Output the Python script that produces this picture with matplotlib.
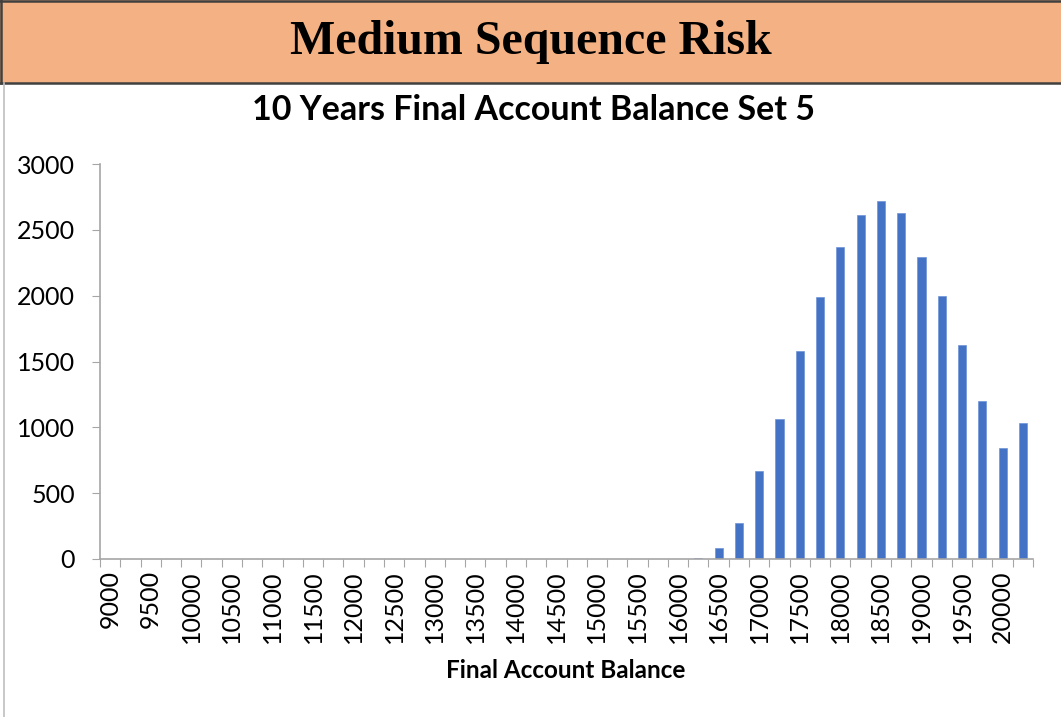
import matplotlib
matplotlib.use("Agg")
import matplotlib.pyplot as plt
from matplotlib.patches import Rectangle
from matplotlib.lines import Line2D
import numpy as np

# ---------------- Data ----------------
balance_bins = list(range(9000, 20251, 250))
counts = [0] * 29 + [5, 86, 276, 670, 1063, 1579, 1992, 2371, 2614, 2720,
                     2629, 2293, 1997, 1622, 1202, 840, 1030]
y_ticks = [0, 500, 1000, 1500, 2000, 2500, 3000]

header_text = "Medium Sequence Risk"
chart_title = "10 Years Final Account Balance Set 5"
x_title = "Final Account Balance"

W, H = 1061, 717
fig = plt.figure(figsize=(W / 100, H / 100), dpi=100)
fig.patch.set_facecolor("white")

# ---------------- Header band ----------------
hdr_h = 83
fig.patches.append(Rectangle((0, 1 - hdr_h / H), 1, hdr_h / H, transform=fig.transFigure,
                             facecolor="#F4B183", edgecolor="none", zorder=0))
for yy in (1 - 1 / H, 1 - hdr_h / H):
    fig.lines.append(Line2D([0, 1], [yy, yy], transform=fig.transFigure,
                            color="#404040", lw=1.8))
fig.lines.append(Line2D([1 / W, 1 / W], [1 - hdr_h / H, 1], transform=fig.transFigure,
                        color="#404040", lw=1.8))
fig.lines.append(Line2D([3.5 / W, 3.5 / W], [0, 1 - hdr_h / H], transform=fig.transFigure,
                        color="#BFBFBF", lw=1.2))
fig.text(531 / W, 1 - 42 / H, header_text, ha="center", va="center",
         family="Liberation Serif", weight="bold", fontsize=34.5)

# ---------------- Chart ----------------
fig.text(533 / W, 1 - 110 / H, chart_title, ha="center", va="center",
         family="Lato", weight="bold", fontsize=24.5)

ax = fig.add_axes([100 / W, (H - 559) / H, 933 / W, 395 / H])
x = np.arange(len(balance_bins))
ax.bar(x, counts, width=0.4, color="#4472C4", edgecolor="#6F94D6", linewidth=0.5)

ax.set_xlim(-0.5, len(balance_bins) - 0.5)
ax.set_ylim(0, 3000)
ax.set_yticks(y_ticks)
ax.set_yticklabels([str(v) for v in y_ticks], family="Lato", fontsize=18)
ax.tick_params(axis="y", length=6, color="#A6A6A6", pad=12)

# tick marks at category boundaries, labels on every other category
ax.set_xticks(np.arange(len(balance_bins) + 1) - 0.5)
ax.set_xticklabels([])
ax.tick_params(axis="x", which="major", length=6, color="#A6A6A6")
ax.set_xticks(x[::2], minor=True)
ax.set_xticklabels([str(b) for b in balance_bins[::2]], minor=True, rotation=90,
                   family="Lato", fontsize=18)
ax.tick_params(axis="x", which="minor", length=0, pad=8)

for s in ("top", "right"):
    ax.spines[s].set_visible(False)
for s in ("left", "bottom"):
    ax.spines[s].set_color("#A6A6A6")
    ax.spines[s].set_linewidth(1.2)

fig.text(566 / W, 1 - 670 / H, x_title, ha="center", va="center",
         family="Lato", weight="bold", fontsize=17.5)

fig.savefig("out.png", dpi=100)
